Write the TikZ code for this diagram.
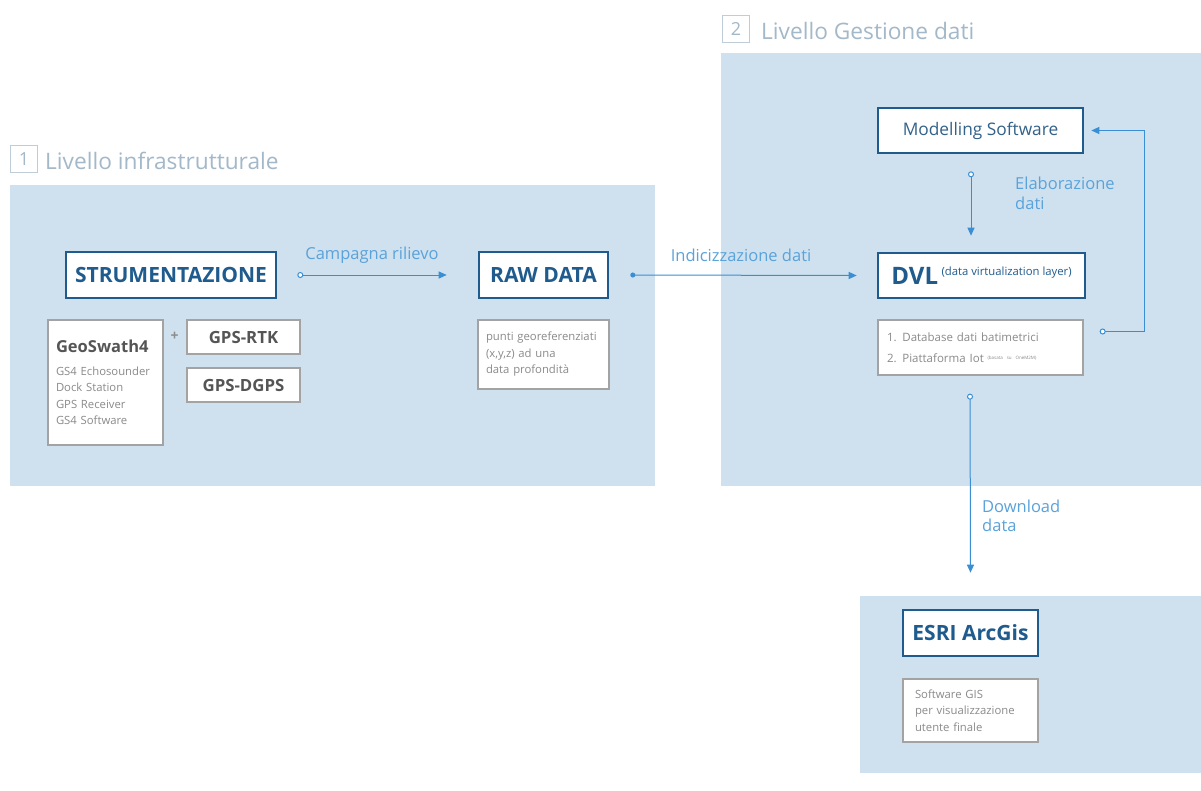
\documentclass[tikz,border=0pt]{standalone}
\usepackage{fontspec}
\setmainfont{Open Sans}
\usetikzlibrary{arrows.meta,calc}
\definecolor{panelblue}{HTML}{CFE1EE}
\definecolor{darkblue}{HTML}{1F5B8D}
\definecolor{arrowblue}{HTML}{3A8ED4}
\definecolor{labelblue}{HTML}{5AA2DA}
\definecolor{boxgray}{HTML}{8C8C8C}
\definecolor{descgray}{HTML}{8A8A8A}
\definecolor{titlegray}{HTML}{A3B8C8}
\definecolor{headgray}{HTML}{555555}
\tikzset{
  panel/.style={fill=panelblue,draw=none},
  mainbox/.style={draw=darkblue,line width=2.6pt,fill=white,inner sep=0pt,text=darkblue,font=\bfseries\fontsize{21}{24}\selectfont},
  descbox/.style={draw=boxgray!80,line width=1.3pt,fill=white,inner sep=0pt,text=descgray,align=left,font=\fontsize{11.3}{16.5}\selectfont},
  graybox/.style={draw=boxgray!80,line width=1.3pt,fill=white,inner sep=0pt,text=headgray,font=\bfseries\fontsize{16.8}{19}\selectfont},
  conn/.style={draw=arrowblue,line width=1pt},
  lbl/.style={text=labelblue,font=\fontsize{16.5}{19}\selectfont,inner sep=0pt},
  numbox/.style={draw=titlegray!70,line width=1pt,minimum width=27pt,minimum height=27pt,inner sep=0pt,text=titlegray,font=\fontsize{18}{20}\selectfont},
  leveltitle/.style={text=titlegray,font=\fontsize{22.7}{26}\selectfont,inner sep=0pt,anchor=west},
  opencirc/.tip={Circle[fill=white,length=6pt,width=6pt]},
  dotcirc/.tip={Circle[length=5pt,width=5pt]},
  tri/.tip={Triangle[length=8pt,width=7pt]},
}
\begin{document}
\begin{tikzpicture}[x=1pt,y=-1pt]
\useasboundingbox[fill=white] (0,0) rectangle (1201,790);
% panels
\fill[panel] (10,185) rectangle (655,486);
\fill[panel] (721,53) rectangle (1201,486);
\fill[panel] (860,596) rectangle (1201,773);
% level titles
\node[numbox] (n1) at (24,159) {1};
\node[leveltitle] (t1) at (45,161) {Livello infrastrutturale};
\node[numbox] (n2) at (736,29) {2};
\node[leveltitle] (t2) at (761,31) {Livello Gestione dati};
% level 1
\node[mainbox,minimum width=210pt,minimum height=46pt] (strum) at (171,275) {STRUMENTAZIONE};
\node[mainbox,minimum width=129pt,minimum height=46pt] (raw) at (543.5,275) {RAW DATA};
\node[descbox,minimum width=115pt,minimum height=125pt,text width=99pt] (geo) at (105.5,382.5)
  {{\bfseries\fontsize{16.5}{19}\selectfont\color{headgray}GeoSwath4}\\[6pt]GS4 Echosounder\\Dock Station\\GPS Receiver\\GS4 Software};
\node[text=boxgray,font=\bfseries\fontsize{14}{16}\selectfont,inner sep=0pt] (plus) at (174.5,336) {+};
\node[graybox,minimum width=113pt,minimum height=34pt] (rtk) at (243.5,337) {GPS-RTK};
\node[graybox,minimum width=113pt,minimum height=34pt] (dgps) at (243.5,385) {GPS-DGPS};
\node[descbox,minimum width=131pt,minimum height=69pt,text width=115pt] (rawdesc) at (543.5,354.5)
  {punti georeferenziati\\(x,y,z) ad una\\data profondità};
% level 2
\node[mainbox,minimum width=205pt,minimum height=45pt,font=\fontsize{17.3}{20}\selectfont,text=darkblue!80!gray] (model) at (980.5,130.5) {Modelling Software};
\node[mainbox,minimum width=207pt,minimum height=45pt] (dvl) at (981.5,275.5)
  {\raisebox{-4pt}{\fontsize{24}{26}\selectfont DVL}\,{\mdseries\fontsize{11.3}{12}\selectfont\raisebox{5pt}{(data virtualization layer)}}};
\node[descbox,minimum width=205pt,minimum height=55pt,text width=187pt,font=\fontsize{11.5}{21}\selectfont] (dvldesc) at (980.5,347.5)
  {1. Database dati batimetrici\\2. Piattaforma Iot {\fontsize{4.5}{5}\selectfont\raisebox{3pt}{(basata su OneM2M)}}};
% level 3
\node[mainbox,minimum width=135pt,minimum height=46pt] (esri) at (970.5,633) {ESRI ArcGis};
\node[descbox,minimum width=135pt,minimum height=63pt,text width=111pt] (esridesc) at (970.5,710.5)
  {Software GIS\\per visualizzazione\\utente finale};
% connectors
\draw[conn,opencirc-tri] ([xshift=20pt]strum.east) -- ([xshift=-31pt]raw.west);
\node[lbl] (lcamp) at (372,255) {Campagna rilievo};
\draw[conn,dotcirc-tri] ([xshift=21pt]raw.east) -- ([xshift=-20pt]dvl.west);
\node[lbl] (lind) at (741,255) {Indicizzazione dati};
\draw[conn,opencirc-tri] ($(model.south)+(-9.5,17)$) -- ($(dvl.north)+(-10.5,-16)$);
\node[lbl,anchor=north west,align=left,font=\fontsize{16.5}{19.5}\selectfont] (lelab) at (1015,177) {Elaborazione\\dati};
\draw[conn,opencirc-tri] ([xshift=16pt,yshift=16pt]dvldesc.east) -| ([xshift=60pt]model.east) -- ([xshift=7pt]model.east);
\draw[conn,opencirc-tri] ($(dvldesc.south)+(-10.5,18)$) -- ($(esri.north)+(0,-36)$);
\node[lbl,anchor=north west,align=left,font=\fontsize{16.5}{18.5}\selectfont] (ldown) at (982,500) {Download\\data};
\end{tikzpicture}
\end{document}
